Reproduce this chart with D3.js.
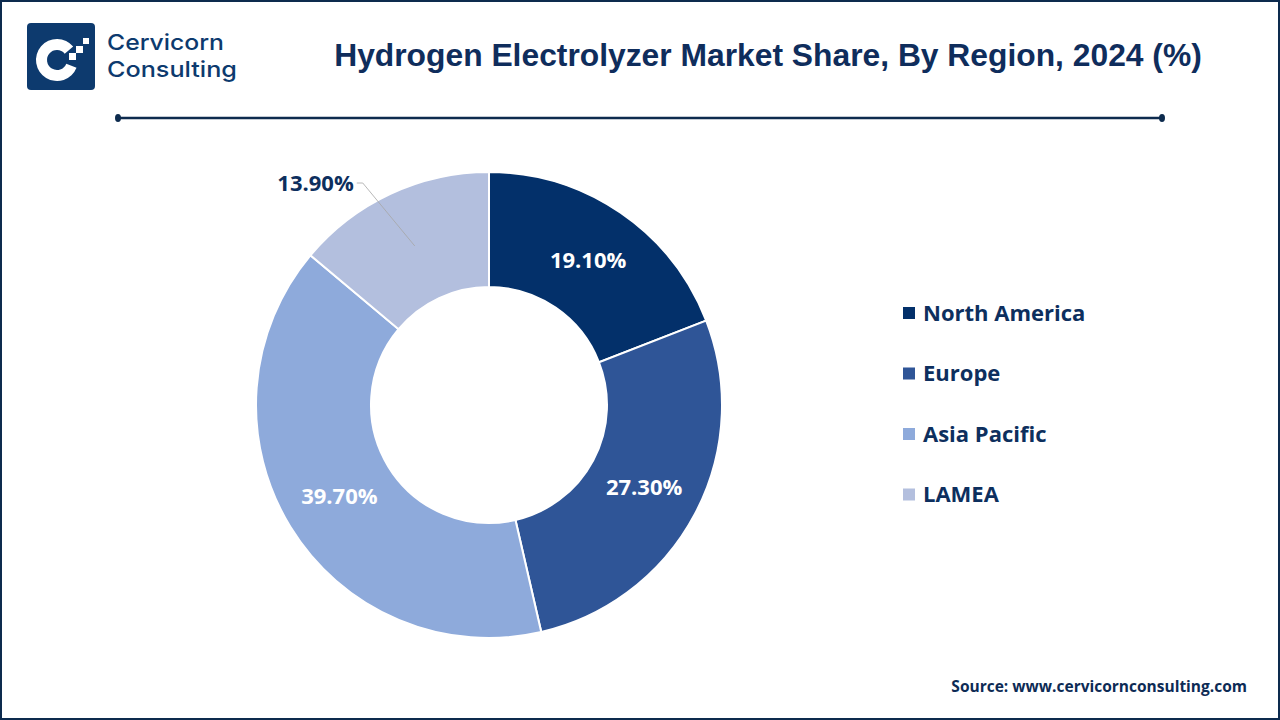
<!DOCTYPE html>
<html>
<head>
<meta charset="utf-8">
<script src="https://cdn.jsdelivr.net/npm/d3@7"></script>
<style>
  html, body { margin: 0; padding: 0; background: #fff; }
  svg { display: block; }
</style>
</head>
<body>
<div id="chart"></div>
<script>
var regions = ['North America', 'Europe', 'Asia Pacific', 'LAMEA'];
var shares = [19.1, 27.3, 39.7, 13.9];
var colors = ['#03306a', '#2f5597', '#8eaadb', '#b3bfde'];
var labelColors = ['#ffffff', '#ffffff', '#ffffff', '#0d2f5e'];

var width = 1280, height = 720;

var svg = d3.select('#chart').append('svg')
  .attr('width', width)
  .attr('height', height);

// frame
svg.append('rect')
  .attr('x', 1).attr('y', 1)
  .attr('width', width - 2).attr('height', height - 2)
  .attr('fill', '#fff')
  .attr('stroke', '#0d2b4e')
  .attr('stroke-width', 2);

// logo
var logo = svg.append('g');
logo.append('rect')
  .attr('x', 27).attr('y', 23)
  .attr('width', 68).attr('height', 67)
  .attr('rx', 4)
  .attr('fill', '#0d3a6e');
logo.append('path')
  .attr('d', d3.arc()({innerRadius: 10, outerRadius: 21, startAngle: Math.PI * 0.62, endAngle: Math.PI * 2.28}))
  .attr('transform', 'translate(57,60)')
  .attr('fill', '#fff');
logo.append('rect').attr('x', 69).attr('y', 53).attr('width', 7).attr('height', 7).attr('fill', '#fff');
logo.append('rect').attr('x', 76).attr('y', 46).attr('width', 7).attr('height', 7).attr('fill', '#fff');
logo.append('rect').attr('x', 83).attr('y', 38).attr('width', 6).attr('height', 6).attr('fill', '#fff');

// company name, two lines
var logoLines = [['Cervicorn', 50, 117], ['Consulting', 77, 130]];
logo.selectAll('text.brand')
  .data(logoLines)
  .enter().append('text')
  .attr('class', 'brand')
  .attr('x', 107)
  .attr('y', function(d) { return d[1]; })
  .attr('textLength', function(d) { return d[2]; })
  .attr('lengthAdjust', 'spacingAndGlyphs')
  .style('font-family', 'Inter, "Open Sans", sans-serif')
  .style('font-size', '22px')
  .style('font-weight', 500)
  .style('fill', '#0d3a6e')
  .text(function(d) { return d[0]; });

// title
svg.append('text')
  .attr('x', 768).attr('y', 66)
  .attr('text-anchor', 'middle')
  .style('font-family', '"Liberation Sans", Arial, sans-serif')
  .style('font-size', '31.8px')
  .style('font-weight', 'bold')
  .style('fill', '#0f2d5c')
  .text('Hydrogen Electrolyzer Market Share, By Region, 2024 (%)');

// rule under title
svg.append('line')
  .attr('x1', 118).attr('x2', 1162)
  .attr('y1', 118).attr('y2', 118)
  .attr('stroke', '#0d2b4e')
  .attr('stroke-width', 2.5);
svg.selectAll('ellipse.cap')
  .data([118, 1162])
  .enter().append('ellipse')
  .attr('class', 'cap')
  .attr('cx', function(d) { return d; })
  .attr('cy', 118)
  .attr('rx', 3).attr('ry', 4)
  .attr('fill', '#0d2b4e');

// donut
var cx = 489, cy = 405, outerR = 233, innerR = 118;
var pie = d3.pie().sort(null).value(function(d) { return d; });
var arcs = pie(shares);
var arc = d3.arc().innerRadius(innerR).outerRadius(outerR);

var g = svg.append('g').attr('transform', 'translate(' + cx + ',' + cy + ')');

g.selectAll('path.slice')
  .data(arcs)
  .enter().append('path')
  .attr('class', 'slice')
  .attr('d', arc)
  .attr('fill', function(d, i) { return colors[i]; })
  .attr('stroke', '#fff')
  .attr('stroke-width', 2);

var labelFont = '"Open Sans", Lato, sans-serif';

// inside labels
g.selectAll('text.inlabel')
  .data(arcs.slice(0, 3))
  .enter().append('text')
  .attr('class', 'inlabel')
  .attr('x', function(d) { return arc.centroid(d)[0]; })
  .attr('y', function(d) { return arc.centroid(d)[1]; })
  .attr('dy', '0.35em')
  .attr('text-anchor', 'middle')
  .style('font-family', labelFont)
  .style('font-size', '22px')
  .style('font-weight', 'bold')
  .style('fill', function(d, i) { return labelColors[i]; })
  .text(function(d) { return d.value.toFixed(2) + '%'; });

// outside label for LAMEA with leader line
var last = arcs[3];
var c = arc.centroid(last);
var elbow = [c[0] - 52, -222];
g.append('polyline')
  .attr('points', [c, elbow, [elbow[0] - 6, elbow[1]]].map(function(p) { return p.join(','); }).join(' '))
  .attr('fill', 'none')
  .attr('stroke', '#a6a6a6')
  .attr('stroke-width', 0.8);
g.append('text')
  .attr('x', elbow[0] - 9)
  .attr('y', elbow[1])
  .attr('dy', '0.35em')
  .attr('text-anchor', 'end')
  .style('font-family', labelFont)
  .style('font-size', '22px')
  .style('font-weight', 'bold')
  .style('fill', labelColors[3])
  .text(last.value.toFixed(2) + '%');

// legend
var legend = svg.append('g').attr('transform', 'translate(903,313)');
var rows = legend.selectAll('g.row')
  .data(regions)
  .enter().append('g')
  .attr('class', 'row')
  .attr('transform', function(d, i) { return 'translate(0,' + (i * 60.5) + ')'; });
rows.append('rect')
  .attr('x', 0).attr('y', -6)
  .attr('width', 12).attr('height', 12)
  .attr('fill', function(d, i) { return colors[i]; });
rows.append('text')
  .attr('x', 20).attr('y', 0)
  .attr('dy', '0.35em')
  .style('font-family', labelFont)
  .style('font-size', '22px')
  .style('font-weight', 'bold')
  .style('fill', '#0d2f5e')
  .text(function(d) { return d; });

// source
svg.append('text')
  .attr('x', 1247).attr('y', 692)
  .attr('text-anchor', 'end')
  .style('font-family', labelFont)
  .style('font-size', '15.5px')
  .style('font-weight', 'bold')
  .style('fill', '#0d2b55')
  .text('Source: www.cervicornconsulting.com');
</script>
</body>
</html>
